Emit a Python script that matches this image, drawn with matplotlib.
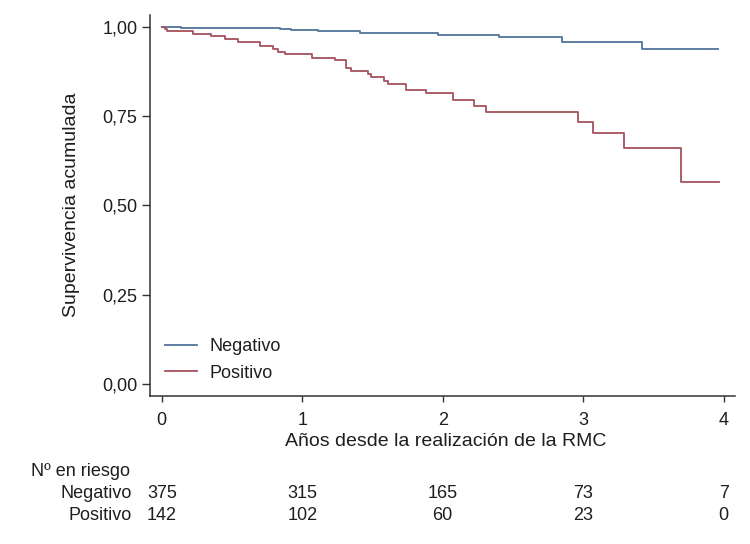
import matplotlib
matplotlib.use("Agg")
import matplotlib.pyplot as plt
import matplotlib.transforms as mtransforms

# ---- data ----
neg_times = [0, 0.14, 0.84, 0.92, 1.11, 1.41, 1.97, 2.40, 2.85, 3.42, 3.96]
neg_surv = [1.0, 0.996, 0.993, 0.990, 0.987, 0.982, 0.977, 0.970, 0.957, 0.937, 0.937]

pos_times = [0, 0.02, 0.04, 0.22, 0.35, 0.45, 0.54, 0.70, 0.79, 0.83, 0.88, 1.07,
             1.23, 1.31, 1.35, 1.47, 1.49, 1.58, 1.61, 1.74, 1.88, 2.07, 2.22,
             2.31, 2.96, 3.07, 3.29, 3.70, 3.97]
pos_surv = [1.0, 0.993, 0.989, 0.980, 0.973, 0.966, 0.957, 0.947, 0.938, 0.930,
            0.923, 0.912, 0.906, 0.885, 0.875, 0.867, 0.858, 0.847, 0.840, 0.824,
            0.815, 0.796, 0.779, 0.762, 0.734, 0.702, 0.660, 0.565, 0.565]

group_labels = ["Negativo", "Positivo"]
x_ticks = [0, 1, 2, 3, 4]
x_tick_labels = ["0", "1", "2", "3", "4"]
y_ticks = [0.0, 0.25, 0.5, 0.75, 1.0]
y_tick_labels = ["0,00", "0,25", "0,50", "0,75", "1,00"]
risk_neg = [375, 315, 165, 73, 7]
risk_pos = [142, 102, 60, 23, 0]

xlabel = "Años desde la realización de la RMC"
ylabel = "Supervivencia acumulada"
risk_title = "Nº en riesgo"

# ---- style ----
plt.rcParams['font.family'] = ['Liberation Sans', 'DejaVu Sans']
FS = 13
FS_LAB = 14
TXT = '#1e1e1e'
W, H = 750, 544
fig = plt.figure(figsize=(W / 100, H / 100), dpi=100)
ax = fig.add_axes([150 / W, 1 - 396 / H, (735 - 150) / W, (396 - 15) / H])

c_neg = '#50739a'
c_pos = '#a5525c'
ax.step(neg_times, neg_surv, where='post', color=c_neg, lw=1.3, label=group_labels[0])
ax.step(pos_times, pos_surv, where='post', color=c_pos, lw=1.3, label=group_labels[1])

ax.set_xlim(-0.084, 4.081)
ax.set_ylim(-0.0336, 1.0327)
ax.set_xticks(x_ticks)
ax.set_xticklabels(x_tick_labels)
ax.set_yticks(y_ticks)
ax.set_yticklabels(y_tick_labels)

for s in ['top', 'right']:
    ax.spines[s].set_visible(False)
for s in ['left', 'bottom']:
    ax.spines[s].set_color('#333333')
    ax.spines[s].set_linewidth(1.1)

ax.tick_params(axis='x', direction='out', length=4.5, width=1.0, colors='#333333',
               labelcolor=TXT, labelsize=FS, pad=7)
ax.tick_params(axis='y', direction='out', length=6, width=1.0, colors='#333333',
               labelcolor=TXT, labelsize=FS, pad=3)

fig.text(72 / W, 1 - 205 / H, ylabel, rotation=90, ha='center', va='center',
         fontsize=FS_LAB, color=TXT)

blend = mtransforms.blended_transform_factory(ax.transData, fig.transFigure)
fig.text(2.02, 1 - 441 / H, xlabel, transform=blend, ha='center', va='center',
         fontsize=FS_LAB, color=TXT)

leg = ax.legend(loc='center left', bbox_to_anchor=(165 / W, 1 - 360 / H),
                bbox_transform=fig.transFigure, frameon=False, fontsize=FS,
                handlelength=1.78, handletextpad=0.67, labelspacing=0.5,
                borderpad=0, borderaxespad=0)
for t in leg.get_texts():
    t.set_color(TXT)

# number at risk table
fig.text(31 / W, 1 - 471 / H, risk_title, ha='left', va='center', fontsize=FS, color=TXT)
fig.text(132 / W, 1 - 494 / H, group_labels[0], ha='right', va='center', fontsize=FS, color=TXT)
fig.text(132 / W, 1 - 515 / H, group_labels[1], ha='right', va='center', fontsize=FS, color=TXT)
for x, n in zip(x_ticks, risk_neg):
    fig.text(x, 1 - 494 / H, str(n), transform=blend, ha='center', va='center',
             fontsize=FS, color=TXT)
for x, n in zip(x_ticks, risk_pos):
    fig.text(x, 1 - 515 / H, str(n), transform=blend, ha='center', va='center',
             fontsize=FS, color=TXT)

fig.savefig('out.png', dpi=100, facecolor='white')
